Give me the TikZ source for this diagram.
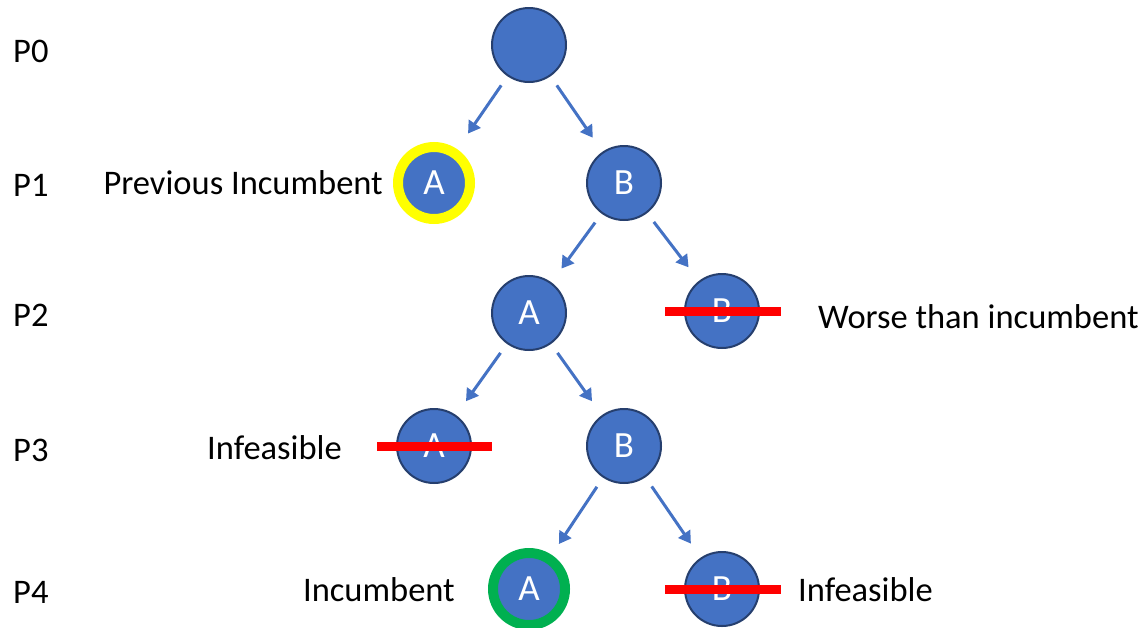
\documentclass[tikz,border=0pt]{standalone}
\usepackage{fontspec}
\setmainfont{Carlito}
\usetikzlibrary{arrows.meta}
\definecolor{nodeblue}{HTML}{4472C4}
\definecolor{edgeblue}{HTML}{263F6E}
\definecolor{ringyellow}{HTML}{FFFF00}
\definecolor{ringgreen}{HTML}{00B050}
\definecolor{cutred}{HTML}{FF0000}
\begin{document}
\begin{tikzpicture}[x=1pt,y=-1pt,
 tn/.style={circle, fill=nodeblue, draw=edgeblue, line width=2pt, minimum size=74pt, inner sep=0pt, outer sep=0pt, text=white, font=\fontsize{37}{40}\selectfont},
 ring/.style={tn, minimum size=72pt, line width=10pt},
 lab/.style={font=\fontsize{34.5}{40}\selectfont, inner sep=0pt},
 arr/.style={draw=nodeblue, line width=3pt, -{Triangle[width=14pt,length=12pt]}, shorten <=12pt, shorten >=18pt},
 cut/.style={draw=cutred, line width=9pt}]
\useasboundingbox (0,0) rectangle (1147,627);
% tree nodes
\node[tn] (r) at (529,45) {};
\node[ring, draw=ringyellow] (a1) at (434,183) {A};
\node[tn] (b1) at (624,183) {B};
\node[tn] (a2) at (529,313) {A};
\node[tn] (b2) at (722,311) {B};
\node[tn] (a3) at (434,446) {A};
\node[tn] (b3) at (624,446) {B};
\node[ring, draw=ringgreen] (a4) at (529,589) {A};
\node[tn] (b4) at (722,589) {B};
% arrows
\draw[arr, shorten >=24pt] (r) -- (a1);
\draw[arr] (r) -- (b1);
\draw[arr] (b1) -- (a2);
\draw[arr] (b1) -- (b2);
\draw[arr] (a2) -- (a3);
\draw[arr] (a2) -- (b3);
\draw[arr] (b3) -- (a4);
\draw[arr] (b3) -- (b4);
% cut lines
\draw[cut] ([xshift=-57pt]b2.center) -- ([xshift=59pt]b2.center);
\draw[cut] ([xshift=-57pt]a3.center) -- ([xshift=58pt]a3.center);
\draw[cut] ([xshift=-57pt]b4.center) -- ([xshift=59pt]b4.center);
% level labels
\node[lab, anchor=base west] (p0) at (13,62) {P0};
\node[lab, anchor=base west] (p1) at (13,196) {P1};
\node[lab, anchor=base west] (p2) at (13,326) {P2};
\node[lab, anchor=base west] (p3) at (13,461) {P3};
\node[lab, anchor=base west] (p4) at (13,603) {P4};
% annotations
\node[lab, anchor=base east] (t1) at (383,194) {Previous Incumbent};
\node[lab, anchor=base west] (t2) at (818,328) {Worse than incumbent};
\node[lab, anchor=base east] (t3) at (342,459) {Infeasible};
\node[lab, anchor=base east] (t4) at (455,601) {Incumbent};
\node[lab, anchor=base west] (t5) at (798,601) {Infeasible};
\end{tikzpicture}
\end{document}
